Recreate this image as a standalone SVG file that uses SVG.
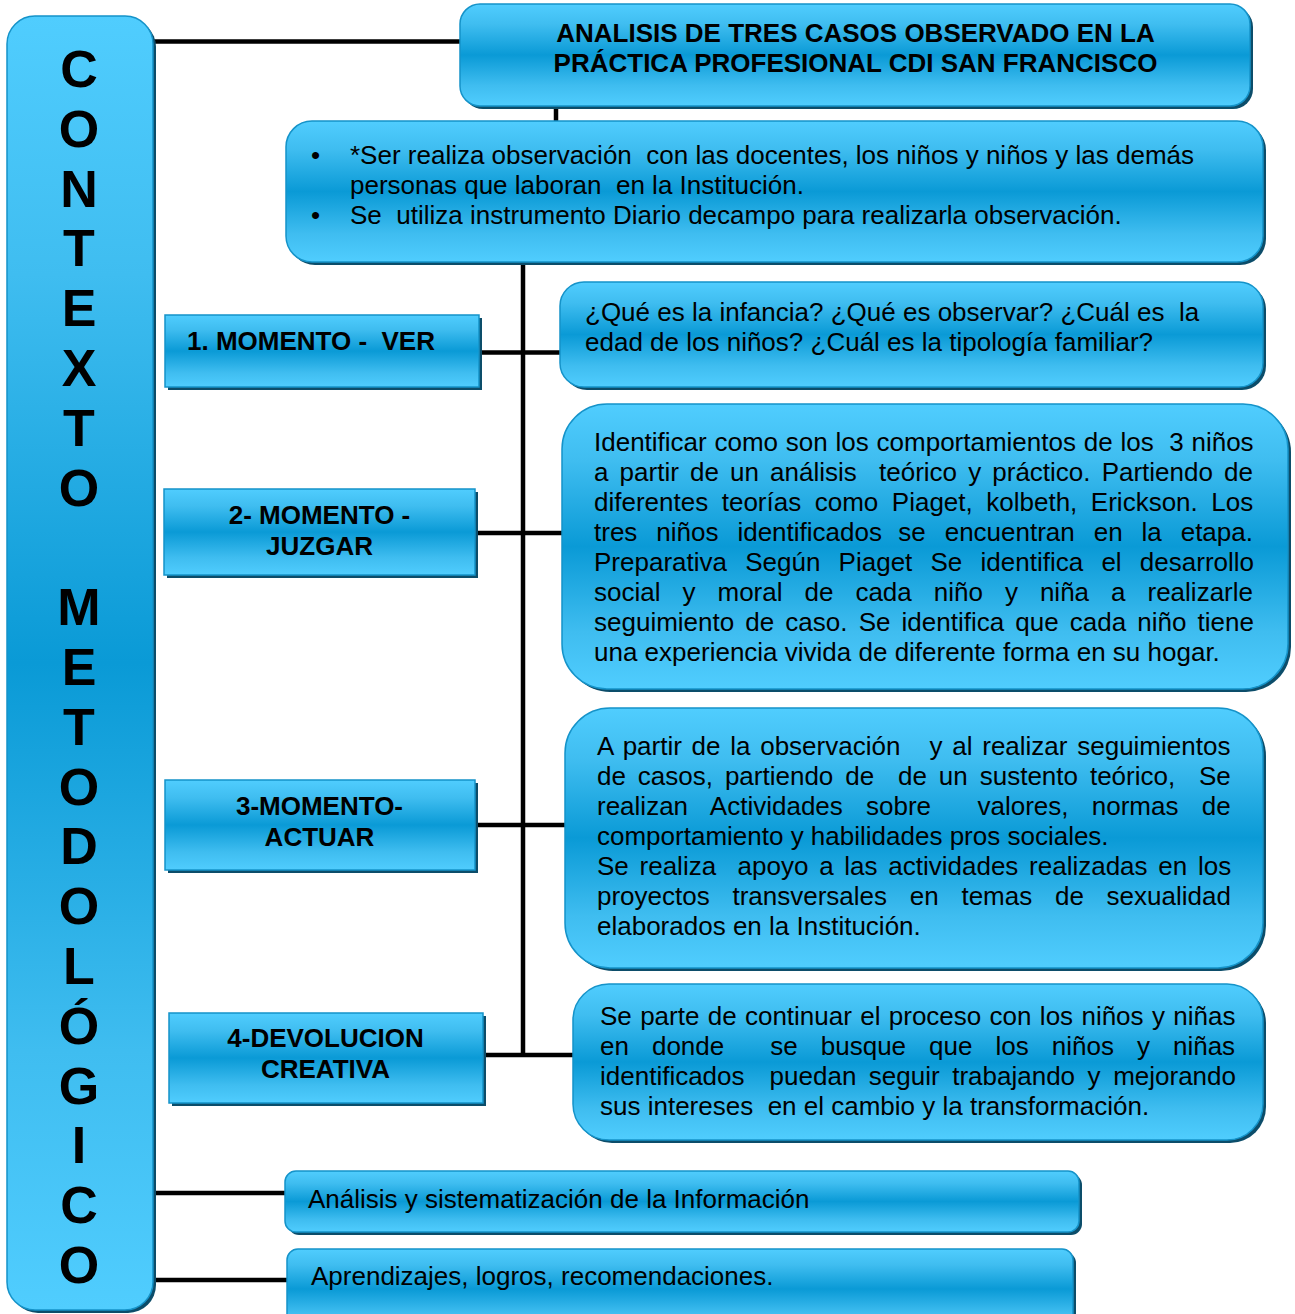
<svg xmlns="http://www.w3.org/2000/svg" width="1295" height="1314" viewBox="0 0 1295 1314" xml:space="preserve">
<defs>
<linearGradient id="g" x1="0" y1="0" x2="0" y2="1">
<stop offset="0" stop-color="#50CDFE"/>
<stop offset="0.2" stop-color="#3FBDF0"/>
<stop offset="0.5" stop-color="#0A9AD6"/>
<stop offset="0.8" stop-color="#3FBDF0"/>
<stop offset="1" stop-color="#50CDFE"/>
</linearGradient>
<style>
.box{fill:url(#g);stroke:#1593C9;stroke-width:1.5}
.sh{fill:#0C4D6A}
.ln{stroke:#000;stroke-width:4.5;fill:none}
text{font-family:"Liberation Sans",Arial,sans-serif;fill:#000;white-space:pre}
.b{font-weight:bold;font-size:26px}
.t{font-size:26px}
.big{font-weight:bold;font-size:52px}
.c{text-anchor:middle}
</style>
</defs>
<rect width="1295" height="1314" fill="#fff"/>

<g id="connectors">
<line class="ln" x1="150" y1="41.5" x2="462" y2="41.5"/>
<line class="ln" x1="556" y1="104" x2="556" y2="123"/>
<line class="ln" x1="523" y1="262" x2="523" y2="1057"/>
<line class="ln" x1="478" y1="352.5" x2="562" y2="352.5"/>
<line class="ln" x1="474" y1="533" x2="564" y2="533"/>
<line class="ln" x1="474" y1="825" x2="567" y2="825"/>
<line class="ln" x1="482" y1="1055" x2="575" y2="1055"/>
<line class="ln" x1="150" y1="1193" x2="288" y2="1193"/>
<line class="ln" x1="150" y1="1280" x2="290" y2="1280"/>
</g>

<g id="contexto">
<rect class="sh" x="10" y="19" width="146" height="1294" rx="28"/>
<rect class="box" x="7" y="16" width="146" height="1294" rx="28"/>
<text class="big c" x="79" y="87">C</text>
<text class="big c" x="79" y="146.8">O</text>
<text class="big c" x="79" y="206.6">N</text>
<text class="big c" x="79" y="266.4">T</text>
<text class="big c" x="79" y="326.2">E</text>
<text class="big c" x="79" y="386">X</text>
<text class="big c" x="79" y="445.8">T</text>
<text class="big c" x="79" y="505.6">O</text>
<text class="big c" x="79" y="625.2">M</text>
<text class="big c" x="79" y="685">E</text>
<text class="big c" x="79" y="744.8">T</text>
<text class="big c" x="79" y="804.6">O</text>
<text class="big c" x="79" y="864.4">D</text>
<text class="big c" x="79" y="924.2">O</text>
<text class="big c" x="79" y="984">L</text>
<text class="big c" x="79" y="1043.8">Ó</text>
<text class="big c" x="79" y="1103.6">G</text>
<text class="big c" x="79" y="1163.4">I</text>
<text class="big c" x="79" y="1223.2">C</text>
<text class="big c" x="79" y="1283">O</text>
</g>

<g id="titulo">
<rect class="sh" x="463" y="7" width="790" height="102" rx="20"/>
<rect class="box" x="460" y="4" width="790" height="102" rx="20"/>
<text class="b c" x="855.5" y="42">ANALISIS DE TRES CASOS OBSERVADO EN LA</text>
<text class="b c" x="855.5" y="72">PRÁCTICA PROFESIONAL CDI SAN FRANCISCO</text>
</g>

<g id="observacion">
<rect class="sh" x="289" y="124" width="977" height="141" rx="26"/>
<rect class="box" x="286" y="121" width="977" height="141" rx="26"/>
<text class="t" x="311" y="164">•</text>
<text class="t" x="350" y="164">*Ser realiza observación  con las docentes, los niños y niños y las demás</text>
<text class="t" x="350" y="194">personas que laboran  en la Institución.</text>
<text class="t" x="311" y="224">•</text>
<text class="t" x="350" y="224">Se  utiliza instrumento Diario decampo para realizarla observación.</text>
</g>

<g id="momento1">
<rect class="sh" x="168" y="318" width="314" height="72"/>
<rect class="box" x="165" y="315" width="314" height="72"/>
<text class="b" x="187" y="350">1. MOMENTO -  VER</text>
</g>

<g id="preguntas">
<rect class="sh" x="563" y="285" width="703" height="105" rx="24"/>
<rect class="box" x="560" y="282" width="703" height="105" rx="24"/>
<text class="t" x="585" y="321">¿Qué es la infancia? ¿Qué es observar? ¿Cuál es  la</text>
<text class="t" x="585" y="351">edad de los niños? ¿Cuál es la tipología familiar?</text>
</g>

<g id="momento2">
<rect class="sh" x="167" y="492" width="311" height="86"/>
<rect class="box" x="164" y="489" width="311" height="86"/>
<text class="b c" x="319.5" y="524">2- MOMENTO -</text>
<text class="b c" x="319.5" y="555">JUZGAR</text>
</g>

<g id="juzgar">
<rect class="sh" x="565" y="407" width="726" height="285" rx="45"/>
<rect class="box" x="562" y="404" width="726" height="285" rx="45"/>
<text class="t" x="594" y="451" style="word-spacing:0.55px">Identificar como son los comportamientos de los  3 niños</text>
<text class="t" x="594" y="481" style="word-spacing:3.9px">a partir de un análisis  teórico y práctico. Partiendo de</text>
<text class="t" x="594" y="511" style="word-spacing:6.3px">diferentes teorías como Piaget, kolbeth, Erickson. Los</text>
<text class="t" y="541"><tspan x="594">tres </tspan><tspan x="656.3">niños </tspan><tspan x="737.4">identificados </tspan><tspan x="898.2">se </tspan><tspan x="944.7">encuentran </tspan><tspan x="1093.7">en </tspan><tspan x="1141.6">la </tspan><tspan x="1180.7">etapa.</tspan></text>
<text class="t" x="594" y="571" style="word-spacing:11px">Preparativa Según Piaget Se identifica el desarrollo</text>
<text class="t" y="601"><tspan x="594">social </tspan><tspan x="682.5">y </tspan><tspan x="717.5">moral </tspan><tspan x="804.5">de </tspan><tspan x="855.4">cada </tspan><tspan x="933.8">niño </tspan><tspan x="1004.9">y </tspan><tspan x="1039.9">niña </tspan><tspan x="1111">a </tspan><tspan x="1147.5">realizarle</tspan></text>
<text class="t" x="594" y="631" style="word-spacing:3.9px">seguimiento de caso. Se identifica que cada niño tiene</text>
<text class="t" x="594" y="661">una experiencia vivida de diferente forma en su hogar.</text>
</g>

<g id="momento3">
<rect class="sh" x="168" y="783" width="310" height="90"/>
<rect class="box" x="165" y="780" width="310" height="90"/>
<text class="b c" x="319.5" y="815">3-MOMENTO-</text>
<text class="b c" x="319.5" y="846">ACTUAR</text>
</g>

<g id="actuar">
<rect class="sh" x="568" y="711" width="698" height="260" rx="45"/>
<rect class="box" x="565" y="708" width="698" height="260" rx="45"/>
<text class="t" x="597" y="755" style="word-spacing:2.5px">A partir de la observación   y al realizar seguimientos</text>
<text class="t" x="597" y="785" style="word-spacing:4.7px">de casos, partiendo de  de un sustento teórico,  Se</text>
<text class="t" x="597" y="815" style="word-spacing:16px">realizan Actividades sobre  valores, normas de</text>
<text class="t" x="597" y="845">comportamiento y habilidades pros sociales.</text>
<text class="t" x="597" y="875" style="word-spacing:3.5px">Se realiza  apoyo a las actividades realizadas en los</text>
<text class="t" x="597" y="905" style="word-spacing:15.5px">proyectos transversales en temas de sexualidad</text>
<text class="t" x="597" y="935">elaborados en la Institución.</text>
</g>

<g id="momento4">
<rect class="sh" x="172" y="1016" width="314" height="90"/>
<rect class="box" x="169" y="1013" width="314" height="90"/>
<text class="b c" x="325.5" y="1047">4-DEVOLUCION</text>
<text class="b c" x="325.5" y="1078">CREATIVA</text>
</g>

<g id="devolucion">
<rect class="sh" x="576" y="987" width="690" height="156" rx="36"/>
<rect class="box" x="573" y="984" width="690" height="156" rx="36"/>
<text class="t" x="600" y="1025" style="word-spacing:1.1px">Se parte de continuar el proceso con los niños y niñas</text>
<text class="t" x="600" y="1055" style="word-spacing:15.8px">en donde  se busque que los niños y niñas</text>
<text class="t" x="600" y="1085" style="word-spacing:5.3px">identificados  puedan seguir trabajando y mejorando</text>
<text class="t" x="600" y="1115">sus intereses  en el cambio y la transformación.</text>
</g>

<g id="analisis">
<rect class="sh" x="288" y="1174" width="794" height="61" rx="11"/>
<rect class="box" x="285" y="1171" width="794" height="61" rx="11"/>
<text class="t" x="308" y="1208">Análisis y sistematización de la Información</text>
</g>

<g id="aprendizajes">
<rect class="sh" x="290" y="1252" width="786" height="80" rx="11"/>
<rect class="box" x="287" y="1249" width="786" height="80" rx="11"/>
<text class="t" x="311" y="1285">Aprendizajes, logros, recomendaciones.</text>
</g>
</svg>
